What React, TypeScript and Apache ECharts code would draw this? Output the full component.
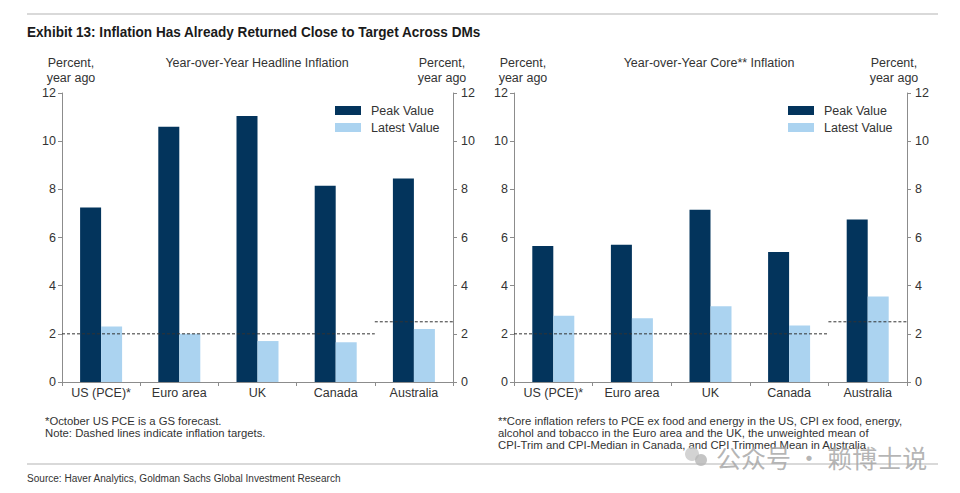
import React, { useEffect, useRef } from "react";
import * as echarts from "echarts";

const categories = ["US (PCE)*", "Euro area", "UK", "Canada", "Australia"];
const headlinePeak = [7.25, 10.6, 11.05, 8.15, 8.45];
const headlineLatest = [2.3, 2.0, 1.7, 1.65, 2.2];
const corePeak = [5.65, 5.7, 7.15, 5.4, 6.75];
const coreLatest = [2.75, 2.65, 3.15, 2.35, 3.55];
const targetMain = 2;
const targetAustralia = 2.5;
const yTicks = { min: 0, max: 12, interval: 2 };

const FONT = "'Liberation Sans', Arial, sans-serif";
const TXT = "#333333";
const AXIS = "#8c8c8c";
const DARK = "#03345c";
const LIGHT = "#abd3f0";

export default function App() {
  const ref = useRef<HTMLDivElement>(null);
  useEffect(() => {
    if (!ref.current) return;
    const chart = echarts.init(ref.current, undefined, { renderer: "svg" });

    const grids = [
      { left: 62, top: 93, width: 391, height: 289 },
      { left: 514, top: 93, width: 393, height: 289 },
    ];

    const xAxis: any[] = [];
    const yAxis: any[] = [];
    const series: any[] = [];
    const sets = [
      [headlinePeak, headlineLatest],
      [corePeak, coreLatest],
    ];

    grids.forEach((_, g) => {
      xAxis.push({
        type: "category",
        gridIndex: g,
        data: categories,
        axisLine: { lineStyle: { color: AXIS, width: 1 } },
        axisTick: { show: true, length: 4, lineStyle: { color: AXIS } },
        axisLabel: { color: TXT, fontSize: 12.5, fontFamily: FONT, margin: 4, interval: 0 },
      });
      xAxis.push({
        type: "value",
        gridIndex: g,
        min: 0,
        max: categories.length,
        show: false,
      });
      const yCommon = {
        type: "value",
        gridIndex: g,
        min: yTicks.min,
        max: yTicks.max,
        interval: yTicks.interval,
        splitLine: { show: false },
        axisLine: { show: true, lineStyle: { color: AXIS, width: 1 } },
        axisTick: { show: true, length: 4, lineStyle: { color: AXIS } },
        axisLabel: { color: TXT, fontSize: 12.5, fontFamily: FONT, margin: 6 },
      };
      yAxis.push({ ...yCommon, position: "left" });
      yAxis.push({ ...yCommon, position: "right", axisLabel: { ...yCommon.axisLabel, margin: 8 } });

      const xi = g * 2;
      const yi = g * 2;
      series.push({
        type: "bar",
        name: "Peak Value",
        xAxisIndex: xi,
        yAxisIndex: yi,
        data: sets[g][0],
        barWidth: 21,
        barGap: "0%",
        itemStyle: { color: DARK },
      });
      series.push({
        type: "bar",
        name: "Latest Value",
        xAxisIndex: xi,
        yAxisIndex: yi,
        data: sets[g][1],
        barWidth: 21,
        barGap: "0%",
        itemStyle: { color: LIGHT },
      });
      series.push({
        type: "line",
        xAxisIndex: xi + 1,
        yAxisIndex: yi,
        data: [
          [0, targetMain],
          [categories.length - 1, targetMain],
        ],
        symbol: "none",
        lineStyle: { color: "#333", width: 1, type: [3, 2] },
        z: 5,
      });
      series.push({
        type: "line",
        xAxisIndex: xi + 1,
        yAxisIndex: yi,
        data: [
          [categories.length - 1, targetAustralia],
          [categories.length, targetAustralia],
        ],
        symbol: "none",
        lineStyle: { color: "#333", width: 1, type: [3, 2] },
        z: 5,
      });
    });

    const legendCommon = {
      orient: "vertical",
      top: 99,
      itemWidth: 26,
      itemHeight: 9,
      itemGap: 4,
      icon: "rect",
      data: ["Peak Value", "Latest Value"],
      textStyle: { color: TXT, fontSize: 12.5, fontFamily: FONT, padding: [0, 0, 0, 5] },
    };

    const t = (x: number, y: number, text: string, extra: any = {}) => ({
      type: "text",
      x,
      y,
      style: {
        text,
        fill: TXT,
        font: `12.5px ${FONT}`,
        textAlign: "center",
        textVerticalAlign: "middle",
        ...extra,
      },
    });

    chart.setOption({
      animation: false,
      backgroundColor: "#ffffff",
      grid: grids,
      xAxis,
      yAxis,
      series,
      legend: [
        { ...legendCommon, left: 330 },
        { ...legendCommon, left: 783 },
      ],
      graphic: [
        { type: "line", shape: { x1: 27, y1: 14, x2: 938, y2: 14 }, style: { stroke: "#d9d9d9", lineWidth: 2 } },
        {
          type: "text",
          x: 27,
          y: 32,
          scaleX: 0.905,
          style: {
            text: "Exhibit 13: Inflation Has Already Returned Close to Target Across DMs",
            fill: "#1a1a1a",
            font: `bold 15px ${FONT}`,
            textAlign: "left",
            textVerticalAlign: "middle",
          },
        },
        t(71, 63, "Percent,"),
        t(71, 78, "year ago"),
        t(257, 63, "Year-over-Year Headline Inflation"),
        t(442, 63, "Percent,"),
        t(442, 78, "year ago"),
        t(523, 63, "Percent,"),
        t(523, 78, "year ago"),
        t(709, 63, "Year-over-Year Core** Inflation"),
        t(894, 63, "Percent,"),
        t(894, 78, "year ago"),
        {
          type: "text",
          x: 45,
          y: 415,
          style: {
            text: "*October US PCE is a GS forecast.\nNote: Dashed lines indicate inflation targets.",
            fill: TXT,
            font: `11.3px ${FONT}`,
            lineHeight: 12,
            textAlign: "left",
            textVerticalAlign: "top",
          },
        },
        {
          type: "text",
          x: 498,
          y: 415,
          style: {
            text:
              "**Core inflation refers to PCE ex food and energy in the US, CPI ex food, energy,\nalcohol and tobacco in the Euro area and the UK, the unweighted mean of\nCPI-Trim and CPI-Median in Canada, and CPI Trimmed Mean in Australia",
            fill: TXT,
            font: `11.3px ${FONT}`,
            lineHeight: 12,
            textAlign: "left",
            textVerticalAlign: "top",
          },
        },
        { type: "line", shape: { x1: 27, y1: 464, x2: 938, y2: 464 }, style: { stroke: "#cccccc", lineWidth: 1.5 } },
        {
          type: "text",
          x: 27,
          y: 478,
          scaleX: 0.875,
          style: {
            text: "Source: Haver Analytics, Goldman Sachs Global Investment Research",
            fill: TXT,
            font: `11.5px ${FONT}`,
            textAlign: "left",
            textVerticalAlign: "middle",
          },
        },
        { type: "circle", shape: { cx: 692, cy: 454, r: 7 }, style: { fill: "#c8c8c8", opacity: 0.8 } },
        { type: "circle", shape: { cx: 701, cy: 460, r: 6 }, style: { fill: "#b5b5b5", opacity: 0.8 } },
        {
          type: "text",
          x: 716,
          y: 457,
          style: {
            text: "公众号 · 赖博士说",
            fill: "#a8a8a8",
            opacity: 0.85,
            font: `25px 'Noto Sans CJK SC', sans-serif`,
            textAlign: "left",
            textVerticalAlign: "middle",
          },
        },
      ],
    });
    return () => chart.dispose();
  }, []);
  return (
    <div
      ref={ref}
      style={{ position: "absolute", left: 0, top: 0, width: 960, height: 493, background: "#fff" }}
    />
  );
}
